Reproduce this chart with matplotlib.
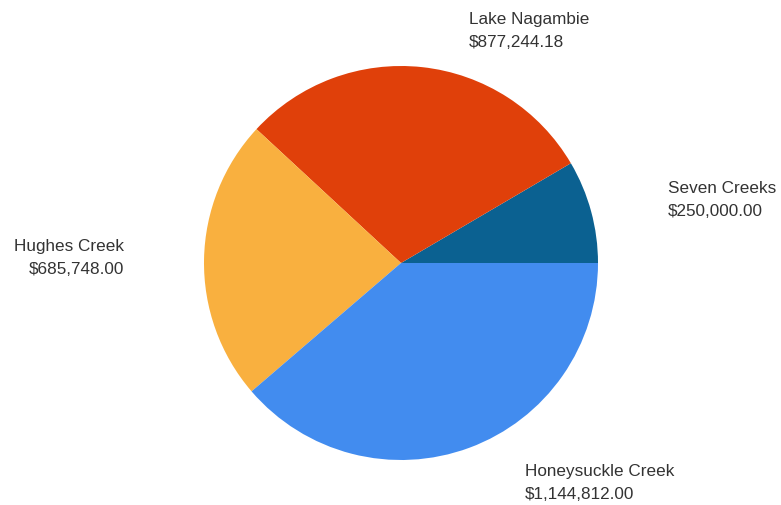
import matplotlib.pyplot as plt

# slice data, counter-clockwise from 3 o'clock
names = ["Seven Creeks", "Lake Nagambie", "Hughes Creek", "Honeysuckle Creek"]
amounts = [250000.00, 877244.18, 685748.00, 1144812.00]
colors = ["#0b6191", "#e0400a", "#f9b03f", "#428cef"]

W, H = 781, 506
fig = plt.figure(figsize=(W / 100, H / 100), dpi=100)
cx, cy, r = 401, 264, 197
ax = fig.add_axes([(cx - r) / W, (H - cy - r) / H, 2 * r / W, 2 * r / H])
ax.pie(amounts, colors=colors, startangle=0, counterclock=True, radius=1,
       wedgeprops=dict(linewidth=0))
ax.set_xlim(-1, 1)
ax.set_ylim(-1, 1)
ax.set_aspect("equal")
ax.axis("off")

# label block positions in pixels (anchor x, block centre y), alignment
label_pos = [(668, 200, "left"), (469, 31, "left"), (124, 258, "right"), (525, 483, "left")]
for name, amt, (px, py, ha) in zip(names, amounts, label_pos):
    fig.text(px / W, 1 - py / H, f"{name}\n${amt:,.2f}", ha=ha, va="center",
             fontsize=12.3, family="Liberation Sans", color="#333333",
             linespacing=1.6)

fig.savefig("out.png", dpi=100)
